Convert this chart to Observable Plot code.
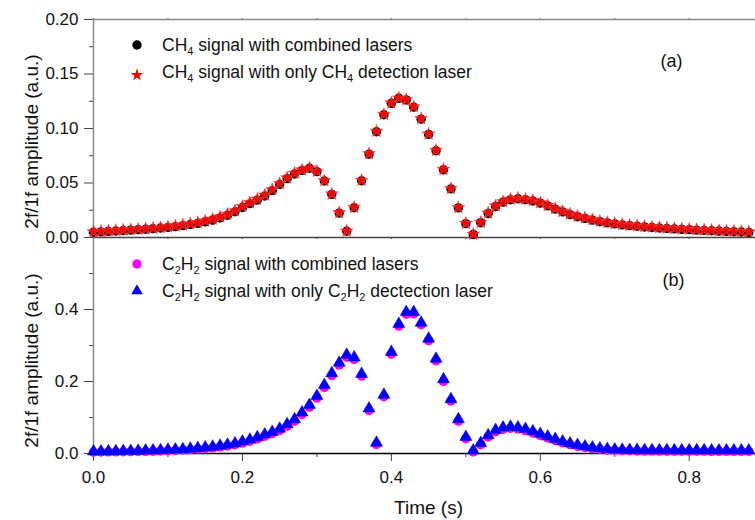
<!DOCTYPE html>
<html>
<head>
<meta charset="utf-8">
<script src="https://cdn.jsdelivr.net/npm/d3@7"></script>
<script src="https://cdn.jsdelivr.net/npm/@observablehq/plot@0.6"></script>
<style>
  body { margin: 0; background: #fff; }
  #wrap { position: relative; width: 755px; height: 520px; background: #fff; }
  #wrap svg { position: absolute; left: 0; top: 0; }
</style>
</head>
<body>
<div id="wrap"></div>
<script>
// ---------- data ----------
const time = [0.00,0.01,0.02,0.03,0.04,0.05,0.06,0.07,0.08,0.09,
  0.10,0.11,0.12,0.13,0.14,0.15,0.16,0.17,0.18,0.19,
  0.20,0.21,0.22,0.23,0.24,0.25,0.26,0.27,0.28,0.29,
  0.30,0.31,0.32,0.33,0.34,0.35,0.36,0.37,0.38,0.39,
  0.40,0.41,0.42,0.43,0.44,0.45,0.46,0.47,0.48,0.49,
  0.50,0.51,0.52,0.53,0.54,0.55,0.56,0.57,0.58,0.59,
  0.60,0.61,0.62,0.63,0.64,0.65,0.66,0.67,0.68,0.69,
  0.70,0.71,0.72,0.73,0.74,0.75,0.76,0.77,0.78,0.79,
  0.80,0.81,0.82,0.83,0.84,0.85,0.86,0.87,0.88];

const ch4Combined = [.0048,.0052,.0056,.0060,.0064,.0068,.0072,.0076,.0081,.0087,
  .0093,.0100,.0109,.0119,.0130,.0144,.0160,.0180,.0204,.0236,
  .0275,.0311,.0343,.0381,.0430,.0486,.0540,.0583,.0615,.0635,
  .0604,.0518,.0396,.0224,.0057,.0273,.0521,.0765,.0970,.1126,
  .1231,.1277,.1262,.1196,.1086,.0946,.0796,.0621,.0446,.0272,
  .0127,.0027,.0136,.0220,.0285,.0325,.0347,.0355,.0347,.0335,
  .0315,.0290,.0260,.0235,.0210,.0191,.0175,.0159,.0145,.0134,
  .0125,.0116,.0109,.0103,.0097,.0092,.0087,.0083,.0079,.0075,
  .0072,.0068,.0065,.0062,.0059,.0056,.0053,.0050,.0047];

const ch4Only = [.0053,.0057,.0061,.0065,.0069,.0073,.0077,.0081,.0086,.0092,
  .0099,.0107,.0116,.0126,.0137,.0152,.0169,.0189,.0213,.0245,
  .0285,.0320,.0352,.0390,.0440,.0495,.0548,.0590,.0620,.0638,
  .0608,.0522,.0400,.0228,.0060,.0277,.0525,.0770,.0975,.1130,
  .1235,.1280,.1265,.1200,.1090,.0950,.0800,.0625,.0450,.0275,
  .0130,.0030,.0140,.0225,.0290,.0330,.0352,.0360,.0352,.0340,
  .0320,.0295,.0265,.0240,.0215,.0196,.0180,.0164,.0150,.0139,
  .0130,.0121,.0114,.0108,.0102,.0097,.0092,.0088,.0084,.0080,
  .0077,.0073,.0070,.0067,.0064,.0061,.0058,.0055,.0052];

const c2h2Combined = [.0040,.0042,.0044,.0046,.0049,.0052,.0055,.0059,.0064,.0070,
  .0077,.0085,.0095,.0107,.0121,.0138,.0158,.0182,.0210,.0243,
  .0290,.0342,.0405,.0478,.0552,.0640,.0758,.0895,.1082,.1290,
  .1538,.1835,.2165,.2455,.2675,.2610,.2150,.1195,.0250,.1575,
  .2760,.3540,.3870,.3875,.3575,.3135,.2575,.2005,.1460,.0900,
  .0415,.0045,.0245,.0460,.0605,.0675,.0700,.0680,.0636,.0572,
  .0503,.0430,.0362,.0300,.0247,.0203,.0166,.0137,.0115,.0099,
  .0088,.0080,.0075,.0071,.0068,.0066,.0065,.0064,.0063,.0063,
  .0062,.0062,.0062,.0061,.0061,.0061,.0061,.0060,.0060];

const c2h2Only = [.0055,.0058,.0061,.0064,.0067,.0071,.0075,.0080,.0086,.0093,
  .0101,.0110,.0121,.0134,.0150,.0168,.0190,.0215,.0245,.0280,
  .0330,.0385,.0450,.0525,.0600,.0690,.0810,.0950,.1140,.1350,
  .1600,.1900,.2230,.2520,.2740,.2670,.2210,.1250,.0300,.1630,
  .2820,.3600,.3930,.3930,.3630,.3190,.2630,.2060,.1510,.0950,
  .0460,.0085,.0290,.0505,.0650,.0720,.0745,.0725,.0680,.0615,
  .0545,.0470,.0400,.0335,.0280,.0235,.0195,.0165,.0142,.0125,
  .0114,.0106,.0100,.0096,.0093,.0091,.0090,.0089,.0088,.0088,
  .0087,.0087,.0087,.0086,.0086,.0086,.0086,.0085,.0085];

// axis ticks
const xMajorTicks = [0, 0.2, 0.4, 0.6, 0.8];
const xMinorTicks = [0.1, 0.3, 0.5, 0.7];
const xAllTicks = [0, 0.1, 0.2, 0.3, 0.4, 0.5, 0.6, 0.7, 0.8];
const yTopMajor = [0, 0.05, 0.10, 0.15, 0.20];
const yTopMinor = [0.025, 0.075, 0.125, 0.175];
const yBotMajor = [0, 0.2, 0.4];
const yBotMinor = [0.1, 0.3, 0.5];
const xDomain = [0, 0.889];
const yTopDomain = [0, 0.2];
const yBotDomain = [0, 0.6];

// labels
const yLabel = "2f/1f amplitude (a.u.)";
const xLabel = "Time (s)";
const panelLabels = ["(a)", "(b)"];
const legendTop = [
  [["CH",0],["4",1],[" signal with combined lasers",0]],
  [["CH",0],["4",1],[" signal with only CH",0],["4",1],[" detection laser",0]]
];
const legendBottom = [
  [["C",0],["2",1],["H",0],["2",1],[" signal with combined lasers",0]],
  [["C",0],["2",1],["H",0],["2",1],[" signal with only C",0],["2",1],["H",0],["2",1],[" dectection laser",0]]
];

const ch4CombRows = time.map((t, i) => ({t, v: ch4Combined[i]}));
const ch4OnlyRows = time.map((t, i) => ({t, v: ch4Only[i]}));
const c2h2CombRows = time.map((t, i) => ({t, v: c2h2Combined[i]}));
const c2h2OnlyRows = time.map((t, i) => ({t, v: c2h2Only[i]}));

// ---------- charts ----------
const FONT = "'Liberation Sans', Arial, Helvetica, sans-serif";
const baseStyle = {background: "transparent", fontFamily: FONT, fontSize: "17px", color: "#111", overflow: "visible"};

const topChart = Plot.plot({
  width: 755, height: 520,
  marginLeft: 93, marginRight: 0, marginTop: 19, marginBottom: 283,
  x: {domain: xDomain, label: null},
  y: {domain: yTopDomain, label: null},
  style: baseStyle,
  marks: [
    Plot.axisY({ticks: yTopMajor, tickSize: 9, tickPadding: 6, tickFormat: d3.format(".2f"), fontSize: 17, stroke: "#444", label: null}),
    Plot.axisY({ticks: yTopMinor, tickSize: 4, text: null, stroke: "#444", label: null}),
    Plot.axisX({ticks: xAllTicks, anchor: "top", tickSize: 2, text: null, stroke: "#666", label: null}),
    Plot.axisX({ticks: xAllTicks, anchor: "bottom", tickSize: 2, text: null, stroke: "#444", label: null}),
    Plot.ruleY([yTopDomain[1]], {stroke: "#888", strokeWidth: 1.5}),
    Plot.ruleY([0], {stroke: "#444", strokeWidth: 1.5}),
    Plot.ruleX([0], {stroke: "#888", strokeWidth: 1.5}),
    Plot.dot(ch4CombRows, {x: "t", y: "v", r: 4.7, fill: "#000", symbol: "circle"}),
    Plot.dot(ch4OnlyRows, {x: "t", y: "v", r: 4.0, fill: "#ff0000", stroke: "#ff4a4a", strokeWidth: 0.6, symbol: "star"}),
    Plot.text([panelLabels[0]], {text: d => d, frameAnchor: "top-right", dx: -84, dy: 42, textAnchor: "middle", lineAnchor: "middle", fontSize: 18, fill: "#111"}),
    Plot.text([yLabel], {text: d => d, frameAnchor: "left", rotate: -90, dx: -62, dy: 13, textAnchor: "middle", lineAnchor: "middle", fontSize: 19, fill: "#111"})
  ]
});

const bottomChart = Plot.plot({
  width: 755, height: 520,
  marginLeft: 93, marginRight: 0, marginTop: 237, marginBottom: 67,
  x: {domain: xDomain, label: null},
  y: {domain: yBotDomain, label: null},
  style: baseStyle,
  marks: [
    Plot.axisY({ticks: yBotMajor, tickSize: 9, tickPadding: 6, tickFormat: d3.format(".1f"), fontSize: 17, stroke: "#444", label: null}),
    Plot.axisY({ticks: yBotMinor, tickSize: 4, text: null, stroke: "#444", label: null}),
    Plot.axisX({ticks: xMajorTicks, anchor: "bottom", tickSize: 8, tickPadding: 9, tickFormat: d3.format(".1f"), fontSize: 17, stroke: "#444", label: null}),
    Plot.axisX({ticks: xMinorTicks, anchor: "bottom", tickSize: 4, text: null, stroke: "#444", label: null}),
    Plot.ruleY([0], {stroke: "#000", strokeWidth: 1.5}),
    Plot.ruleX([0], {stroke: "#888", strokeWidth: 1.5}),
    Plot.dot(c2h2CombRows, {x: "t", y: "v", r: 4.7, fill: "#ff00ff", symbol: "circle"}),
    Plot.dot(c2h2OnlyRows, {x: "t", y: "v", r: 4.5, fill: "#0000ff", stroke: "#0000cc", strokeWidth: 0.5, symbol: "triangle"}),
    Plot.text([panelLabels[1]], {text: d => d, frameAnchor: "top-right", dx: -82, dy: 43, textAnchor: "middle", lineAnchor: "middle", fontSize: 18, fill: "#111"}),
    Plot.text([yLabel], {text: d => d, frameAnchor: "left", rotate: -90, dx: -62, dy: 15, textAnchor: "middle", lineAnchor: "middle", fontSize: 19, fill: "#111"}),
    Plot.text([xLabel], {text: d => d, frameAnchor: "bottom", dx: 4, dy: 54, textAnchor: "middle", lineAnchor: "middle", fontSize: 19, fill: "#111"})
  ]
});

const wrap = document.getElementById("wrap");
wrap.appendChild(topChart);
wrap.appendChild(bottomChart);

// ---------- legends (with subscripts) ----------
function addLegend(svg, rows, specs) {
  const g = d3.select(svg).append("g")
    .attr("font-family", FONT).attr("font-size", 17.5).attr("fill", "#111")
    .attr("text-anchor", "start");
  rows.forEach((parts, i) => {
    const s = specs[i];
    g.append("path")
      .attr("transform", `translate(${s.sx},${s.sy})`)
      .attr("d", d3.symbol().type(s.type).size(Math.PI * s.r * s.r)())
      .attr("fill", s.fill);
    const txt = g.append("text").attr("x", s.tx).attr("y", s.ty).attr("text-anchor", "start");
    parts.forEach(([t, isSub], j) => {
      const ts = txt.append("tspan").text(t);
      if (isSub) ts.attr("font-size", 11).attr("dy", 4);
      else if (j > 0 && parts[j - 1][1]) ts.attr("dy", -4);
    });
  });
}
addLegend(topChart, legendTop, [
  {type: d3.symbolCircle, r: 4.7, fill: "#000", sx: 137, sy: 45, tx: 162, ty: 51},
  {type: d3.symbolStar, r: 4.0, fill: "#ff0000", sx: 137, sy: 75, tx: 162, ty: 78}
]);
addLegend(bottomChart, legendBottom, [
  {type: d3.symbolCircle, r: 4.7, fill: "#ff00ff", sx: 137, sy: 264, tx: 162, ty: 270},
  {type: d3.symbolTriangle, r: 4.3, fill: "#0000ff", sx: 137, sy: 291, tx: 162, ty: 297}
]);
</script>
</body>
</html>
